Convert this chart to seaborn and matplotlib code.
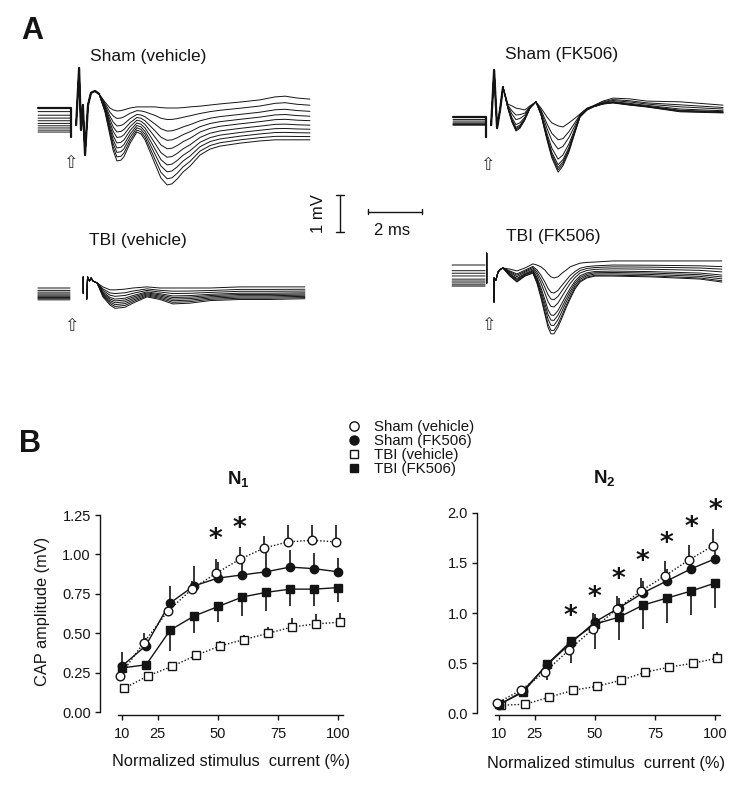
import numpy as np
import matplotlib
matplotlib.use('Agg')
import matplotlib.pyplot as plt
from matplotlib.lines import Line2D
import seaborn as sns

nan = np.nan

# ---------------- panel B data: CAP amplitude (mV) ----------------
stim_pct = [10, 20, 30, 40, 50, 60, 70, 80, 90, 100]

# N1
sham_veh_n1 = [0.23, 0.44, 0.64, 0.78, 0.88, 0.97, 1.04, 1.08, 1.09, 1.08]
sham_veh_n1_err = [0.03, 0.06, 0.05, 0.05, 0.09, 0.08, 0.08, 0.11, 0.10, 0.11]
sham_fk_n1 = [0.29, 0.42, 0.69, 0.80, 0.85, 0.87, 0.89, 0.92, 0.91, 0.89]
sham_fk_n1_err = [0.09, 0.05, 0.11, 0.13, 0.10, 0.10, 0.14, 0.11, 0.10, 0.09]
tbi_veh_n1 = [0.15, 0.23, 0.29, 0.36, 0.42, 0.46, 0.50, 0.54, 0.56, 0.57]
tbi_veh_n1_err = [0.01, 0.02, 0.02, 0.02, 0.03, 0.03, 0.04, 0.06, 0.06, 0.06]
tbi_fk_n1 = [0.28, 0.30, 0.52, 0.61, 0.67, 0.73, 0.76, 0.78, 0.78, 0.79]
tbi_fk_n1_err = [0.03, 0.03, 0.13, 0.11, 0.10, 0.12, 0.12, 0.11, 0.11, 0.09]

# N2
sham_veh_n2 = [0.10, 0.23, 0.41, 0.63, 0.84, 1.04, 1.22, 1.37, 1.53, 1.67]
sham_veh_n2_err = [0.02, 0.03, 0.04, 0.05, 0.16, 0.13, 0.13, 0.15, 0.15, 0.17]
sham_fk_n2 = [0.08, 0.22, 0.48, 0.70, 0.91, 1.05, 1.20, 1.32, 1.44, 1.54]
sham_fk_n2_err = [0.02, 0.03, 0.05, 0.05, 0.08, 0.10, 0.12, 0.12, 0.12, 0.10]
tbi_veh_n2 = [0.08, 0.09, 0.16, 0.23, 0.27, 0.33, 0.41, 0.46, 0.50, 0.55]
tbi_veh_n2_err = [0.02, 0.02, 0.02, 0.02, 0.02, 0.02, 0.03, 0.03, 0.04, 0.06]
tbi_fk_n2 = [0.09, 0.21, 0.49, 0.72, 0.89, 0.96, 1.08, 1.15, 1.22, 1.30]
tbi_fk_n2_err = [0.02, 0.03, 0.16, 0.22, 0.25, 0.23, 0.24, 0.245, 0.24, 0.25]

# significance asterisks (x, height)
sig_n1_x = [49, 59]
sig_n1_y = [1.09, 1.16]
sig_n2_x = [40, 50, 60, 70, 80, 90, 100]
sig_n2_y = [0.96, 1.15, 1.33, 1.51, 1.69, 1.85, 2.02]

group_labels = ['Sham (vehicle)', 'Sham (FK506)', 'TBI (vehicle)', 'TBI (FK506)']

# ---------------- panel A traces (ms, mV): smallest / largest response ----------------
# Sham (vehicle)
shv_t = [-1.22, -0.04, 0.0, 0.0, nan, 0.19, 0.30, 0.37, 0.44, 0.52, 0.63, 0.74, 0.89,
         1.04, 1.26, 1.44, 1.56, 1.70, 1.85, 1.96, 2.19, 2.44, 2.59,
         2.74, 2.93, 3.11, 3.33, 3.56, 3.74, 3.93, 4.15, 4.41, 4.78,
         5.15, 5.52, 6.26, 7.00, 7.56, 7.93, 8.37, 8.85]
shv_top = [0, 0, 0, -0.78, nan, -0.46, 1.08, -0.59, 0.08, -1.27, 0.08, 0.41, 0.46,
           0.38, 0.16, 0.00, -0.05, -0.08, -0.07, -0.05, 0.00, 0.03, 0.03,
           0.03, 0.03, 0.03, 0.01, 0.00, 0.00, 0.00, 0.01, 0.03, 0.05,
           0.08, 0.11, 0.16, 0.22, 0.30, 0.32, 0.27, 0.24]
shv_bot = [-0.65, -0.65, -0.65, -0.78, nan, -0.46, 1.08, -0.59, 0.08, -1.27, 0.08, 0.41, 0.46,
           0.38, -0.11, -0.73, -1.14, -1.43, -1.41, -1.32, -0.95, -0.65, -0.70,
           -0.86, -1.19, -1.51, -1.89, -2.08, -2.05, -1.92, -1.73, -1.57, -1.27,
           -1.11, -1.03, -0.95, -0.89, -0.86, -0.86, -0.86, -0.86]
shv_gain = [0, 0.15, 0.30, 0.42, 0.53, 0.64, 0.74, 0.83, 0.92, 1.0]

# Sham (FK506)
shf_t = [-1.22, -0.04, 0.0, 0.0, nan, 0.19, 0.30, 0.41, 0.52, 0.63,
         0.81, 0.96, 1.11, 1.26, 1.44, 1.63, 1.85, 2.04, 2.26, 2.44, 2.67, 2.85,
         3.07, 3.30, 3.48, 3.74, 3.96, 4.33, 4.70, 5.33, 5.96, 7.19, 8.78]
shf_top = [0, 0, 0, -0.54, nan, -0.22, 1.27, -0.30, 0.19, 0.81,
           0.35, 0.30, 0.24, 0.22, 0.19, 0.30, 0.41, 0.24, 0.00, -0.16, -0.24, -0.27,
           -0.16, -0.03, 0.08, 0.24, 0.30, 0.43, 0.51, 0.49, 0.43, 0.41, 0.32]
shf_bot = [-0.22, -0.22, -0.22, -0.54, nan, -0.22, 1.27, -0.30, 0.19, 0.81,
           0.24, -0.14, -0.38, -0.30, -0.08, 0.24, 0.41, 0.05, -0.62, -1.11, -1.49, -1.32,
           -0.95, -0.41, 0.00, 0.19, 0.27, 0.35, 0.38, 0.32, 0.27, 0.14, 0.11]
shf_gain = [0, 0.30, 0.50, 0.72, 0.84, 0.90, 0.95, 1.0]

# TBI (vehicle)
tbv_t = [-1.19, 0.0, nan, 0.49, 0.49, nan, 0.62, 0.65, 0.72, 0.78, 0.85, 0.93,
         1.00, 1.22, 1.48, 1.67, 2.04, 2.33, 2.85, 3.33, 3.81, 4.44, 5.19, 6.30, 7.41, 8.70]
tbv_top = [0, 0, nan, -0.14, 0.30, nan, -0.30, 0.30, 0.19, 0.27, 0.19, 0.16,
           0.14, 0.03, -0.05, -0.05, -0.03, 0.00, 0.03, 0.00, 0.00, 0.00, 0.00, 0.03, 0.03, 0.03]
tbv_bot = [-0.32, -0.32, nan, -0.14, 0.30, nan, -0.30, 0.30, 0.19, 0.27, 0.19, 0.16,
           0.14, -0.24, -0.46, -0.55, -0.52, -0.41, -0.24, -0.31, -0.43, -0.41, -0.34, -0.31, -0.31, -0.29]
tbv_gain = [0, 0.2, 0.35, 0.5, 0.6, 0.7, 0.8, 0.9, 1.0]

# TBI (FK506)
tbf_t = [-1.28, -0.06, nan, 0.0, 0.0, nan, 0.27, 0.27, 0.34, 0.42, 0.50, 0.60,
         0.86, 1.12, 1.42, 1.71, 1.86, 2.01, 2.16, 2.27, 2.38, 2.49, 2.64, 2.79, 2.94,
         3.09, 3.27, 3.46, 3.71, 4.01, 4.68, 6.05, 7.90, 8.71]
tbf_top = [0, 0, nan, 0.32, -0.49, nan, -1.00, -0.35, -0.41, -0.19, -0.12, -0.08,
           -0.11, -0.16, -0.08, 0.03, 0.00, -0.05, -0.14, -0.24, -0.32, -0.35, -0.32, -0.22, -0.14,
           -0.05, 0.00, 0.05, 0.07, 0.08, 0.11, 0.11, 0.11, 0.11]
tbf_bot = [-0.57, -0.57, nan, 0.32, -0.49, nan, -1.00, -0.35, -0.41, -0.19, -0.12, -0.08,
           -0.30, -0.46, -0.30, -0.22, -0.49, -0.89, -1.35, -1.68, -1.86, -1.86, -1.68, -1.43, -1.16,
           -0.92, -0.65, -0.46, -0.35, -0.30, -0.30, -0.32, -0.38, -0.46]
tbf_gain = [0, 0.27, 0.39, 0.52, 0.67, 0.76, 0.85, 0.94, 1.0]

# ---------------- figure ----------------
sns.set_style('ticks')
plt.rcParams['font.family'] = ['Liberation Sans', 'DejaVu Sans']
plt.rcParams['mathtext.fontset'] = 'custom'
plt.rcParams['mathtext.bf'] = 'Liberation Sans:bold'
plt.rcParams['mathtext.rm'] = 'Liberation Sans'

W, H = 750, 796
PX_MS, PX_MV = 27.0, 37.0   # scale of panel A in pixels
ink = '#141414'

fig = plt.figure(figsize=(W / 100, H / 100), dpi=100)


def fx(px):
    return px / W


def fy(py):
    return 1 - py / H


def trace_axes(x0, y0):
    # full-figure axes in ms / mV, origin at pixel (x0, y0)
    ax = fig.add_axes([0, 0, 1, 1])
    ax.set_xlim(-x0 / PX_MS, (W - x0) / PX_MS)
    ax.set_ylim((y0 - H) / PX_MV, y0 / PX_MV)
    ax.axis('off')
    return ax


def draw_traces(ax, t, top, bot, gains, heavy=0):
    t, top, bot = np.array(t), np.array(top), np.array(bot)
    for g in gains:
        ax.plot(t, top + g * (bot - top), color=ink, lw=0.7)
    if heavy:
        # stimulus artefact, where all sweeps overlap
        ax.plot(t[:heavy], top[:heavy], color=ink, lw=1.6)


draw_traces(trace_axes(71, 108), shv_t, shv_top, shv_bot, shv_gain, heavy=14)
draw_traces(trace_axes(486, 117), shf_t, shf_top, shf_bot, shf_gain, heavy=10)
draw_traces(trace_axes(70, 288), tbv_t, tbv_top, tbv_bot, tbv_gain)
draw_traces(trace_axes(486.7, 265), tbf_t, tbf_top, tbf_bot, tbf_gain)

# scale bars: 1 mV, 2 ms
sb = trace_axes(340, 232)
sb.plot([0, 0], [0, 1], color=ink, lw=1.0)
sb.plot([-0.13, 0.13], [0, 0], color=ink, lw=1.0)
sb.plot([-0.13, 0.13], [1, 1], color=ink, lw=1.0)
sb.plot([1.04, 3.04], [0.55, 0.55], color=ink, lw=1.0)
sb.plot([1.04, 1.04], [0.48, 0.62], color=ink, lw=1.0)
sb.plot([3.04, 3.04], [0.48, 0.62], color=ink, lw=1.0)
sb.text(-0.81, 0.5, '1 mV', rotation=90, ha='center', va='center', fontsize=12, color=ink)
sb.text(1.93, 0.05, '2 ms', ha='center', va='center', fontsize=12, color=ink)

# panel A labels and stimulus arrows
for lbl, (px, py) in zip(group_labels, [(148, 57), (562, 55), (138, 240), (553, 237)]):
    fig.text(fx(px), fy(py), lbl, ha='center', va='center', fontsize=12.5, color=ink)
for px, py in [(70, 163), (487, 165), (71, 326), (488, 325)]:
    fig.text(fx(px), fy(py), '\u21e7', ha='center', va='center', fontsize=12.5,
             color='#333333', family='DejaVu Sans')
fig.text(fx(32), fy(31), 'A', ha='center', va='center', fontsize=22, fontweight='bold', color=ink)
fig.text(fx(30), fy(444), 'B', ha='center', va='center', fontsize=22, fontweight='bold', color=ink)

# ---------------- panel B ----------------
styles = [
    # label, marker, filled, linestyle, size, dodge, error up?
    ('Sham (vehicle)', 'o', False, (0, (1, 1.4)), 6.2, -0.8, True),
    ('Sham (FK506)', 'o', True, '-', 6.0, 0.0, True),
    ('TBI (vehicle)', 's', False, (0, (1, 1.4)), 5.4, 1.0, True),
    ('TBI (FK506)', 's', True, '-', 5.4, 0.2, False),
]


def plot_group(ax, y, err, style, z):
    _, marker, filled, ls, ms, dx, up = style
    xd = np.array(stim_pct) + dx
    zeros = np.zeros(len(err))
    yerr = [zeros, err] if up else [err, zeros]
    ax.errorbar(xd, y, yerr=yerr, fmt='none', ecolor=ink, elinewidth=1.2, capsize=0, zorder=z)
    sns.lineplot(x=xd, y=y, ax=ax, color=ink, linewidth=1.0, linestyle=ls, marker=marker,
                 markersize=ms, markerfacecolor=ink if filled else 'white',
                 markeredgecolor=ink, markeredgewidth=1.0, zorder=z + 0.5)


def style_axes(ax, ytop, yticks, fmt):
    ax.set_facecolor('none')
    ax.set_xlim(1, 105)
    ax.set_ylim(-0.02, ytop)
    ax.set_xticks([10, 25, 50, 75, 100])
    ax.set_yticks(yticks)
    ax.set_yticklabels([fmt.format(v) for v in yticks])
    sns.despine(ax=ax)
    ax.spines['left'].set_bounds(0, yticks[-1])
    ax.spines['bottom'].set_bounds(8.6, 102.2)
    for s in ['left', 'bottom']:
        ax.spines[s].set_linewidth(1.0)
        ax.spines[s].set_color(ink)
    ax.tick_params(length=3.6, width=1.0, labelsize=10.5, colors=ink)
    ax.tick_params(axis='x', pad=5)
    ax.tick_params(axis='y', pad=3)
    ax.set_xlabel('Normalized stimulus  current (%)', fontsize=11.8, color=ink)
    ax.set_ylabel('')


ax1 = fig.add_axes([fx(100), fy(715.2), 250 / W, 208 / H])
ax2 = fig.add_axes([fx(477), fy(715.3), 250 / W, 210.6 / H])

n1_sets = [(sham_veh_n1, sham_veh_n1_err), (sham_fk_n1, sham_fk_n1_err),
           (tbi_veh_n1, tbi_veh_n1_err), (tbi_fk_n1, tbi_fk_n1_err)]
n2_sets = [(sham_veh_n2, sham_veh_n2_err), (sham_fk_n2, sham_fk_n2_err),
           (tbi_veh_n2, tbi_veh_n2_err), (tbi_fk_n2, tbi_fk_n2_err)]
zorders = [8, 6, 2, 4]

for ax, sets in [(ax1, n1_sets), (ax2, n2_sets)]:
    for (y, e), st, z in zip(sets, styles, zorders):
        plot_group(ax, y, e, st, z)

style_axes(ax1, 1.30, [0.0, 0.25, 0.5, 0.75, 1.0, 1.25], '{:.2f}')
style_axes(ax2, 2.08, [0.0, 0.5, 1.0, 1.5, 2.0], '{:.1f}')

ax1.set_ylabel('CAP amplitude (mV)', fontsize=11.8, color=ink)
ax1.yaxis.set_label_coords(-0.228, 0.5)
ax1.yaxis.label.set_va('center')
ax1.xaxis.set_label_coords(0.524, -0.224)
ax1.xaxis.label.set_va('center')
ax2.xaxis.set_label_coords(0.515, -0.227)
ax2.xaxis.label.set_va('center')

for ax, xs, ys in [(ax1, sig_n1_x, sig_n1_y), (ax2, sig_n2_x, sig_n2_y)]:
    for x, y in zip(xs, ys):
        ax.text(x, y, '*', ha='center', va='center', fontsize=19, fontweight='bold',
                color=ink, family='DejaVu Sans')

fig.text(fx(238), fy(479.5), r'$\mathbf{N_1}$', ha='center', va='center', fontsize=13.5, color=ink)
fig.text(fx(604), fy(477.5), r'$\mathbf{N_2}$', ha='center', va='center', fontsize=13.5, color=ink)

handles = []
for _, marker, filled, _, ms, _, _ in styles:
    handles.append(Line2D([], [], ls='none', marker=marker, markersize=ms + 0.5,
                          markerfacecolor=ink if filled else 'white',
                          markeredgecolor=ink, markeredgewidth=1.0))
fig.legend(handles, group_labels, loc='upper left', bbox_to_anchor=(fx(346), fy(420)),
           frameon=False, fontsize=10.8, handlelength=1.0, handletextpad=0.9,
           labelspacing=0.0, borderpad=0, borderaxespad=0, labelcolor=ink)

fig.savefig('out.png', dpi=100)
